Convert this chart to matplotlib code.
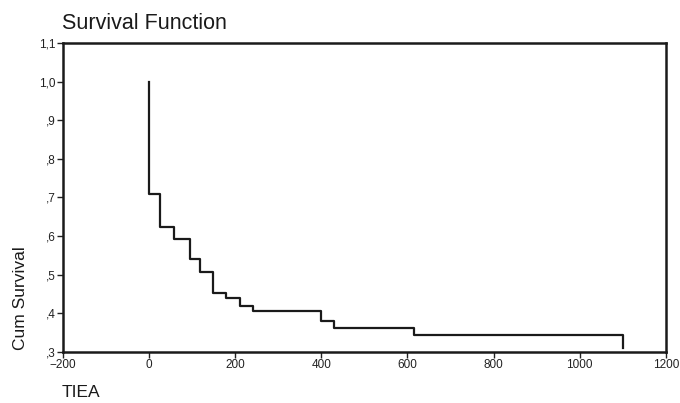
import numpy as np
import matplotlib
matplotlib.use("Agg")
import matplotlib.pyplot as plt
from matplotlib.ticker import FuncFormatter

plt.rcParams["font.family"] = ["Liberation Sans", "DejaVu Sans"]

# Kaplan-Meier steps
event_times = [0, 26, 57, 94, 118, 149, 179, 210, 242, 399, 430, 614, 1101]
surv_after = [0.71, 0.623, 0.592, 0.542, 0.506, 0.454, 0.441, 0.419, 0.406, 0.381, 0.362, 0.345, 0.31]
start_surv = 1.0

x_ticks = [-200, 0, 200, 400, 600, 800, 1000, 1200]
y_ticks = [0.3, 0.4, 0.5, 0.6, 0.7, 0.8, 0.9, 1.0, 1.1]


def comma_fmt(v, pos):
    s = f"{v:.1f}".replace(".", ",")
    if s.startswith("0"):
        s = s[1:]
    return s


fig = plt.figure(figsize=(6.8, 4.03), dpi=100)
ax = fig.add_axes([0.0926, 0.1266, 0.8866, 0.7667])

ax.plot([0] + event_times, [start_surv] + surv_after,
        drawstyle="steps-post", color="#1a1a1a", linewidth=1.6)

ax.set_xlim(-200, 1200)
ax.set_ylim(0.3, 1.1)
ax.set_xticks(x_ticks)
ax.set_yticks(y_ticks)
ax.yaxis.set_major_formatter(FuncFormatter(comma_fmt))
ax.tick_params(direction="out", length=4, width=1, pad=1, labelsize=8.5, colors="#222222")

for sp in ax.spines.values():
    sp.set_linewidth(1.8)
    sp.set_color("#1a1a1a")

fig.text(0.091, 0.915, "Survival Function", fontsize=15.5, color="#1a1a1a", ha="left", va="bottom")
fig.text(0.03, 0.26, "Cum Survival", fontsize=12.5, color="#1a1a1a", rotation=90, ha="center", va="center")
fig.text(0.091, 0.008, "TIEA", fontsize=12.5, color="#1a1a1a", ha="left", va="bottom")

fig.savefig("out.png", dpi=100)
